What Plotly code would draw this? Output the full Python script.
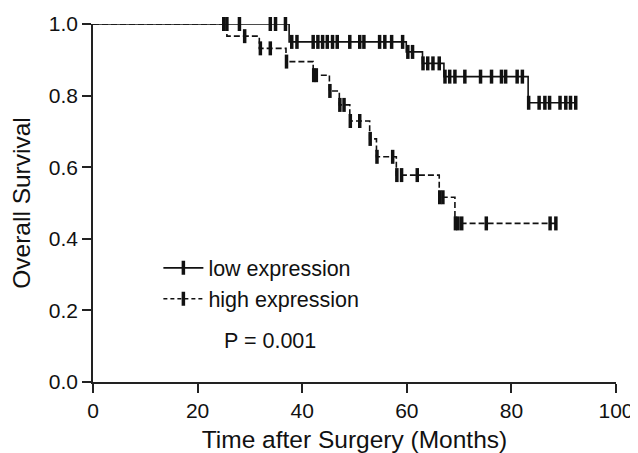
import plotly.graph_objects as go

# ---- data ----
# low expression group (solid)
low_step_t = [0, 37.5, 59.9, 63.0, 67.1, 83.2, 92.3]
low_step_s = [1.0, 0.950, 0.922, 0.890, 0.853, 0.780, 0.780]
low_cens_t = [25.0, 25.6, 28.0, 33.9, 34.9, 36.8,
              38.0, 39.0, 42.1, 43.0, 43.9, 44.8, 45.8, 46.7, 49.1, 51.0, 51.8, 54.8, 55.8, 57.1, 59.2,
              60.2, 61.1,
              63.1, 64.0, 65.0, 66.2,
              67.3, 68.2, 69.2, 71.1, 74.1, 76.2, 78.1, 78.9, 81.1, 82.1,
              83.3, 85.3, 86.4, 87.3, 89.3, 90.4, 91.3, 92.3]

# high expression group (dashed)
high_step_t = [0, 25.6, 31.8, 36.9, 42.1, 45.2, 47.1, 49.1, 52.9, 54.2, 58.0, 66.2, 69.2, 88.6]
high_step_s = [1.0, 0.966, 0.932, 0.895, 0.857, 0.813, 0.774, 0.729, 0.679, 0.629, 0.578, 0.516, 0.443, 0.443]
high_cens_t = [29.0, 32.0, 33.9, 37.0, 42.2, 42.7, 45.3, 47.2, 48.0, 49.2, 51.0, 53.0,
               54.3, 57.3, 58.1, 59.0, 62.0, 66.3, 66.9, 69.3, 69.8, 70.5, 75.2, 87.4, 88.5]

x_ticks = [0, 20, 40, 60, 80, 100]
y_ticks = [0.0, 0.2, 0.4, 0.6, 0.8, 1.0]
y_tick_labels = ["0.0", "0.2", "0.4", "0.6", "0.8", "1.0"]


def level_at(times, levels, t):
    s = levels[0]
    for ti, si in zip(times, levels):
        if t >= ti:
            s = si
    return s


low_cens_s = [level_at(low_step_t, low_step_s, t) for t in low_cens_t]
high_cens_s = [level_at(high_step_t, high_step_s, t) for t in high_cens_t]

FONT = "Liberation Sans, Arial, sans-serif"
INK = "#111111"
MARK = dict(symbol="line-ns", size=10, color=INK, line=dict(color=INK, width=3.5))

fig = go.Figure()

# step lines (no legend)
fig.add_trace(go.Scatter(x=low_step_t, y=low_step_s, mode="lines", line_shape="hv",
                         line=dict(color=INK, width=1.6), showlegend=False,
                         cliponaxis=False, hoverinfo="skip"))
fig.add_trace(go.Scatter(x=high_step_t, y=high_step_s, mode="lines", line_shape="hv",
                         line=dict(color=INK, width=1.6, dash="6px,3px"), showlegend=False,
                         cliponaxis=False, hoverinfo="skip"))

# censor marks
fig.add_trace(go.Scatter(x=low_cens_t, y=low_cens_s, mode="markers", name="low expression",
                         marker=MARK, cliponaxis=False, showlegend=False))
fig.add_trace(go.Scatter(x=high_cens_t, y=high_cens_s, mode="markers", name="high expression",
                         marker=MARK, cliponaxis=False, showlegend=False))

# legend-only traces
fig.add_trace(go.Scatter(x=[None], y=[None], mode="lines+markers", name="low expression",
                         line=dict(color=INK, width=1.6), marker=MARK))
fig.add_trace(go.Scatter(x=[None], y=[None], mode="lines+markers", name="high expression",
                         line=dict(color=INK, width=1.6, dash="4px,3px"), marker=MARK))

# page body adds an 8px offset; plot area spans screen x 93..616, y 24..382
PW, PH = 523, 358
fig.add_annotation(text="P = 0.001", x=(222 - 93) / PW, y=(382 - 341) / PH,
                   xref="paper", yref="paper",
                   showarrow=False, xanchor="left", yanchor="middle",
                   font=dict(family=FONT, size=21.5, color=INK))

fig.update_layout(
    width=630, height=445,
    margin=dict(l=85, r=22, t=16, b=71, autoexpand=False),
    paper_bgcolor="white", plot_bgcolor="white",
    font=dict(family=FONT, color=INK),
    showlegend=True,
    legend=dict(x=0.125, y=0.376, xanchor="left", yanchor="top",
                bgcolor="rgba(0,0,0,0)", font=dict(family=FONT, size=21.5, color=INK),
                tracegroupgap=0, itemwidth=40),
    xaxis=dict(range=[0, 100], tickvals=x_ticks, ticks="outside", ticklen=9, tickwidth=1.5,
               tickcolor="#222", showline=True, linecolor="#222", linewidth=1.5,
               showgrid=False, zeroline=False, automargin=False,
               tickfont=dict(family=FONT, size=21, color=INK),
               title=dict(text="Time after Surgery (Months)", standoff=10,
                          font=dict(family=FONT, size=24.5, color=INK))),
    yaxis=dict(range=[0, 1], tickvals=y_ticks, ticktext=y_tick_labels, ticks="outside",
               ticklen=9, tickwidth=1.5, tickcolor="#222", showline=True, linecolor="#222",
               linewidth=1.5, showgrid=False, zeroline=False, automargin=False,
               tickfont=dict(family=FONT, size=21, color=INK),
               title=dict(text="Overall Survival", standoff=11,
                          font=dict(family=FONT, size=24.5, color=INK))),
)

fig.write_html("out.html")
